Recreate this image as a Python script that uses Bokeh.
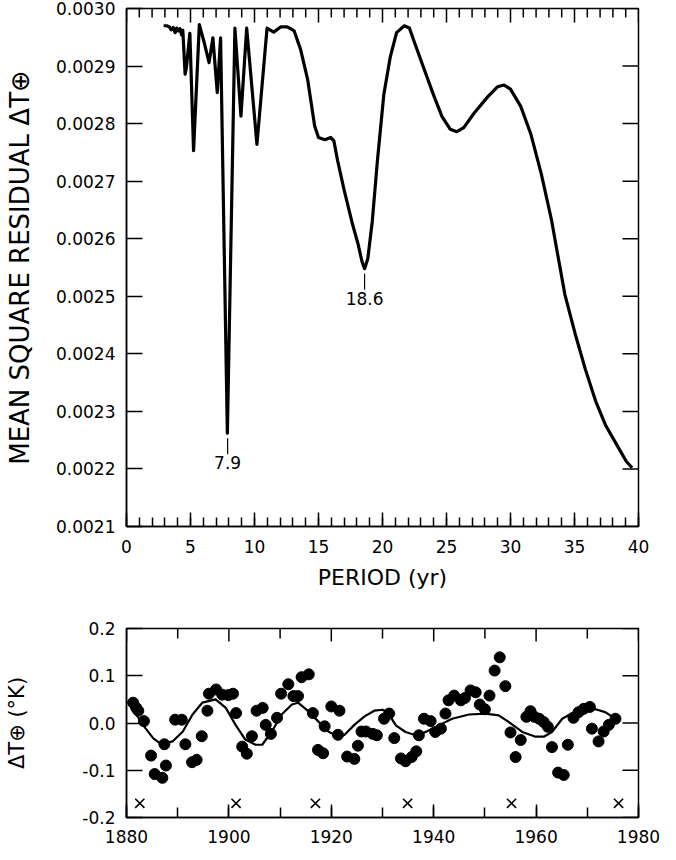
from bokeh.plotting import figure
from bokeh.layouts import column
from bokeh.models import FixedTicker, Range1d, ColumnDataSource, NumeralTickFormatter
from bokeh.embed import file_html
from bokeh.resources import INLINE
from bokeh.core.properties import value

FONT = "DejaVu Sans"

# ---------------- top panel data ----------------
period_yr = [2.9, 3.15, 3.35, 3.5, 3.65, 3.8, 3.92, 4.05, 4.18, 4.3, 4.4, 4.58, 4.68, 4.95,
             5.24, 5.69, 6.08, 6.45, 6.75, 7.09, 7.35, 7.88, 8.47, 8.94, 9.39, 10.19, 10.98,
             11.5, 12.04, 12.57, 13.1, 13.6, 14.15, 14.7, 15.0, 15.5, 15.95, 16.2, 16.5, 17.0,
             17.6, 18.1, 18.4, 18.6, 18.85, 19.2, 19.6, 20.1, 20.6, 21.1, 21.7, 22.1, 22.5,
             23.2, 24.0, 24.65, 25.3, 25.8, 26.35, 27.15, 28.2, 28.98, 29.5, 30.0, 30.8, 31.6,
             32.4, 33.2, 33.7, 34.25, 35.05, 35.85, 36.65, 37.45, 38.25, 39.05, 39.5]
msr = [0.002970, 0.002970, 0.002968, 0.002963, 0.002967, 0.002958, 0.002966, 0.002961,
       0.002965, 0.002954, 0.002962, 0.002886, 0.002897, 0.002957, 0.002753, 0.002972,
       0.002940, 0.002906, 0.002949, 0.002854, 0.002949, 0.002262, 0.002966, 0.002813,
       0.002966, 0.002764, 0.002966, 0.002959, 0.002968, 0.002968, 0.002961, 0.002929,
       0.002877, 0.002796, 0.002776, 0.002772, 0.002776, 0.002770, 0.002735, 0.002685,
       0.002630, 0.002590, 0.002560, 0.002548, 0.002565, 0.002630, 0.002735, 0.002850,
       0.002915, 0.002958, 0.002970, 0.002966, 0.002941, 0.002898, 0.002849, 0.002812,
       0.002790, 0.002786, 0.002793, 0.002818, 0.002846, 0.002864, 0.002867, 0.002860,
       0.002830, 0.002781, 0.002713, 0.002633, 0.002571, 0.002503, 0.002435, 0.002373,
       0.002318, 0.002275, 0.002244, 0.002213, 0.002202]

annot_period = [7.9, 18.6]
annot_min = [0.002262, 0.002548]
annot_text = ["7.9", "18.6"]

top_x_ticks = [0, 5, 10, 15, 20, 25, 30, 35, 40]
top_x_labels = ["0", "5", "10", "15", "20", "25", "30", "35", "40"]
top_x_minor = list(range(0, 41))
top_y_ticks = [0.0021, 0.0022, 0.0023, 0.0024, 0.0025, 0.0026, 0.0027, 0.0028, 0.0029, 0.0030]
top_y_labels = ["0.0021", "0.0022", "0.0023", "0.0024", "0.0025", "0.0026", "0.0027",
                "0.0028", "0.0029", "0.0030"]

# ---------------- bottom panel data ----------------
obs_year = [1881.3, 1881.9, 1882.3, 1883.4, 1884.8, 1885.5, 1887.0, 1887.4, 1887.7, 1889.5,
            1890.8, 1891.5, 1892.8, 1893.7, 1894.7, 1895.8, 1896.1, 1897.5, 1898.7, 1899.9,
            1900.8, 1901.4, 1902.6, 1903.5, 1904.5, 1905.4, 1906.6, 1907.2, 1908.2, 1909.4,
            1910.2, 1911.6, 1912.6, 1913.5, 1914.2, 1915.6, 1916.4, 1917.4, 1918.4, 1918.7,
            1920.0, 1921.3, 1921.6, 1923.1, 1924.5, 1925.2, 1925.9, 1926.8, 1928.1, 1928.9,
            1930.3, 1931.3, 1932.3, 1933.6, 1934.5, 1935.7, 1936.6, 1937.1, 1938.1, 1939.4,
            1940.3, 1941.4, 1942.3, 1942.9, 1944.0, 1945.3, 1946.1, 1947.2, 1948.2, 1949.0,
            1950.0, 1950.9, 1951.9, 1952.9, 1954.0, 1955.0, 1956.0, 1957.0, 1958.1, 1958.9,
            1959.7, 1960.6, 1961.5, 1962.3, 1963.1, 1964.3, 1965.4, 1966.2, 1967.3, 1968.3,
            1969.3, 1970.5, 1970.9, 1972.2, 1973.2, 1974.2, 1975.5]
obs_dT = [0.043, 0.032, 0.026, 0.004, -0.069, -0.108, -0.116, -0.045, -0.090, 0.007,
          0.007, -0.045, -0.083, -0.078, -0.028, 0.026, 0.062, 0.071, 0.060, 0.059,
          0.062, 0.021, -0.050, -0.065, -0.028, 0.026, 0.032, -0.004, -0.023, 0.011,
          0.062, 0.082, 0.057, 0.057, 0.097, 0.103, 0.021, -0.057, -0.064, -0.007,
          0.035, -0.025, 0.026, -0.071, -0.076, -0.048, -0.018, -0.018, -0.023, -0.026,
          0.009, 0.020, -0.032, -0.075, -0.081, -0.072, -0.060, -0.026, 0.009, 0.004,
          -0.019, -0.012, 0.020, 0.048, 0.058, 0.048, 0.053, 0.069, 0.065, 0.039,
          0.029, 0.058, 0.111, 0.139, 0.078, -0.020, -0.072, -0.036, 0.013, 0.025,
          0.013, 0.009, 0.002, -0.008, -0.051, -0.105, -0.110, -0.046, 0.011, 0.023,
          0.030, 0.034, -0.012, -0.039, -0.018, -0.004, 0.009]

fit_year = [1880.3, 1883.2, 1885.2, 1886.8, 1889.0, 1891.0, 1892.9, 1894.8, 1897.4, 1899.4,
            1901.3, 1903.2, 1905.2, 1906.5, 1908.4, 1910.3, 1912.3, 1913.5, 1915.5, 1917.4,
            1919.4, 1921.3, 1922.6, 1924.5, 1926.5, 1928.4, 1930.0, 1931.0, 1932.6, 1934.5,
            1936.5, 1938.4, 1941.0, 1943.6, 1946.9, 1950.1, 1952.7, 1954.7, 1957.3, 1959.9,
            1961.5, 1963.1, 1965.1, 1967.7, 1970.3, 1971.6, 1973.5, 1975.5]
fit_dT = [0.046, -0.004, -0.032, -0.045, -0.039, -0.018, 0.018, 0.043, 0.050, 0.032,
          -0.004, -0.035, -0.046, -0.046, -0.018, 0.018, 0.039, 0.043, 0.025, 0.004,
          -0.018, -0.028, -0.025, -0.004, 0.014, 0.026, 0.028, 0.023, -0.005, -0.019,
          -0.026, -0.019, -0.005, 0.009, 0.018, 0.020, 0.016, 0.002, -0.019, -0.029,
          -0.029, -0.019, 0.009, 0.025, 0.029, 0.029, 0.023, 0.009]

cross_year = [1882.6, 1901.4, 1916.9, 1934.9, 1955.2, 1976.1]
cross_dT = [-0.17, -0.17, -0.17, -0.17, -0.17, -0.17]

bot_x_ticks = [1880, 1900, 1920, 1940, 1960, 1980]
bot_x_labels = ["1880", "1900", "1920", "1940", "1960", "1980"]
bot_x_minor = [1880, 1890, 1900, 1910, 1920, 1930, 1940, 1950, 1960, 1970, 1980]
bot_y_ticks = [-0.2, -0.1, 0.0, 0.1, 0.2]
bot_y_labels = ["-0.2", "-0.1", "0.0", "0.1", "0.2"]

# ---------------- layout / style constants ----------------
FW = 512            # frame width (px)
FH1 = 518           # top frame height
FH2 = 189           # bottom frame height


def setup_axis(ax, ticks, labels, tick_in, fmt, minor=None, minor_in=0):
    ax.ticker = FixedTicker(ticks=ticks, minor_ticks=minor or [])
    ax.formatter = NumeralTickFormatter(format=fmt)
    ax.major_label_overrides = dict(zip(ticks, labels))
    ax.major_tick_in = tick_in
    ax.major_tick_out = 0
    ax.minor_tick_in = minor_in
    ax.minor_tick_out = 0
    ax.axis_line_color = "black"
    ax.axis_line_width = 1.5
    ax.major_tick_line_color = "black"
    ax.major_tick_line_width = 1.5
    ax.minor_tick_line_color = "black"
    ax.minor_tick_line_width = 1.5
    ax.major_label_text_font = FONT
    ax.major_label_text_font_size = "17px"
    ax.major_label_text_color = "black"
    ax.axis_label_text_font = FONT
    ax.axis_label_text_font_style = "normal"
    ax.axis_label_text_color = "black"


def inner_ticks(p, xr, yr, fw, fh, x_ticks, x_len, y_ticks, y_len):
    """tick marks on the top and right frame edges (drawn as segments, no labels)."""
    x0, x1 = xr
    y0, y1 = yr
    dx = (x1 - x0) / fw
    dy = (y1 - y0) / fh
    p.segment(x0=x_ticks, y0=[y1] * len(x_ticks), x1=x_ticks,
              y1=[y1 - L * dy for L in x_len], line_color="black", line_width=1.5)
    p.segment(x0=[x1] * len(y_ticks), y0=y_ticks, x1=[x1 - y_len * dx] * len(y_ticks),
              y1=y_ticks, line_color="black", line_width=1.5)


# ---------------- top figure ----------------
xr1 = (0, 40)
yr1 = (0.0021, 0.0030)
p1 = figure(frame_width=FW, frame_height=FH1, x_range=Range1d(*xr1), y_range=Range1d(*yr1),
            output_backend="svg", toolbar_location=None,
            min_border_left=126, min_border_top=8, min_border_right=22, min_border_bottom=75)
p1.grid.visible = False
p1.outline_line_color = "black"
p1.outline_line_width = 1.5
p1.background_fill_color = "white"

setup_axis(p1.xaxis[0], top_x_ticks, top_x_labels, 14, "0", top_x_minor, 9)
p1.xaxis[0].major_label_standoff = 13
p1.xaxis[0].axis_label = "PERIOD (yr)"
p1.xaxis[0].axis_label_text_font_size = "22px"
p1.xaxis[0].axis_label_standoff = 9
setup_axis(p1.yaxis[0], top_y_ticks, top_y_labels, 16, "0.0000")
p1.yaxis[0].major_label_standoff = 11
p1.yaxis[0].axis_label = "MEAN SQUARE RESIDUAL \u0394T\u2295"
p1.yaxis[0].axis_label_text_font_size = "26px"
p1.yaxis[0].axis_label_standoff = 18

inner_ticks(p1, xr1, yr1, FW, FH1, top_x_minor,
            [14 if t % 5 == 0 else 9 for t in top_x_minor], top_y_ticks, 16)

p1.line(period_yr, msr, line_color="black", line_width=3.2, line_join="round")

px_unit = (yr1[1] - yr1[0]) / FH1
seg_src = ColumnDataSource(dict(
    x=annot_period,
    y0=[m - 5 * px_unit for m in annot_min],
    y1=[m - 21 * px_unit for m in annot_min],
    ty=[m - 23 * px_unit for m in annot_min],
    t=annot_text))
p1.segment(x0="x", y0="y0", x1="x", y1="y1", source=seg_src, line_color="black", line_width=1.2)
p1.text(x="x", y="ty", text="t", source=seg_src, text_font=value(FONT),
        text_font_size="17px", text_align="center", text_baseline="top", text_color="black")

# ---------------- bottom figure ----------------
xr2 = (1880, 1980)
yr2 = (-0.2, 0.2)
p2 = figure(frame_width=FW, frame_height=FH2, x_range=Range1d(*xr2), y_range=Range1d(*yr2),
            output_backend="svg", toolbar_location=None,
            min_border_left=126, min_border_top=27, min_border_right=22, min_border_bottom=28)
p2.grid.visible = False
p2.outline_line_color = "black"
p2.outline_line_width = 1.5
p2.background_fill_color = "white"

setup_axis(p2.xaxis[0], bot_x_ticks, bot_x_labels, 13, "0", bot_x_minor, 10)
p2.xaxis[0].major_label_standoff = 12
setup_axis(p2.yaxis[0], bot_y_ticks, bot_y_labels, 16, "0.0")
p2.yaxis[0].major_label_standoff = 11
p2.yaxis[0].axis_label = "\u0394T\u2295 (\u00b0K)"
p2.yaxis[0].axis_label_text_font_size = "21px"
p2.yaxis[0].axis_label_standoff = 50

inner_ticks(p2, xr2, yr2, FW, FH2, bot_x_minor,
            [13 if t % 20 == 0 else 10 for t in bot_x_minor], bot_y_ticks, 16)

p2.line(fit_year, fit_dT, line_color="black", line_width=2.2, line_join="round")
p2.scatter(obs_year, obs_dT, size=11, marker="circle", fill_color="black", line_color="black")
p2.scatter(cross_year, cross_dT, size=13, marker="x", line_color="black", line_width=1.6)

layout = column(p1, p2, spacing=0)
open("out.html", "w").write(file_html(layout, INLINE))
